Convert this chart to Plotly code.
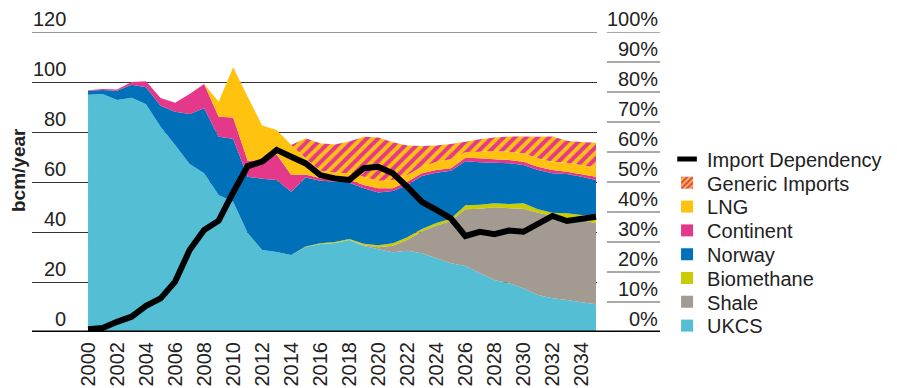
import plotly.graph_objects as go

# Gas supply by source (bcm/year) and import dependency (%), 2000-2035
years = list(range(2000, 2036))

ukcs = [94.9, 95.2, 92.8, 93.7, 91.1, 82.1, 74.8, 67.2, 63.5, 54.8,
        52.1, 39.6, 32.8, 32.0, 30.8, 34.0, 35.2, 35.6, 36.8, 34.4,
        33.1, 31.9, 32.5, 31.5, 29.5, 27.5, 26.4, 23.5, 20.8, 19.5,
        17.5, 14.8, 13.5, 12.8, 11.9, 11.1]
shale = [0, 0, 0, 0, 0, 0, 0, 0, 0, 0,
         0, 0, 0, 0, 0, 0, 0, 0, 0, 0.3,
         0.8, 2.6, 4.3, 8.8, 13.0, 16.9, 22.7, 25.8, 29.1, 30.0,
         31.8, 32.9, 33.0, 32.9, 32.9, 32.4]
biomethane = [0, 0, 0, 0, 0, 0, 0, 0, 0, 0,
              0, 0, 0, 0, 0, 0.2, 0.3, 0.4, 0.4, 0.6,
              0.8, 1.0, 1.1, 0.9, 1.1, 0.9, 1.6, 1.6, 1.6, 1.7,
              2.2, 1.4, 1.2, 1.8, 2.0, 3.0]
norway = [1.6, 1.6, 3.7, 5.2, 6.8, 8.4, 13.3, 20.0, 26.0, 23.3,
          25.2, 22.5, 28.5, 28.8, 25.3, 27.6, 25.0, 24.2, 22.5, 22.2,
          21.1, 20.9, 20.9, 21.2, 20.1, 19.2, 17.6, 17.0, 16.2, 16.3,
          15.3, 15.7, 15.8, 15.7, 15.3, 14.3]
continent = [0.2, 0.4, 0.5, 1.1, 2.4, 3.1, 3.6, 8.0, 9.7, 8.0,
             8.5, 6.4, 7.5, 10.2, 6.7, 1.2, 1.0, 1.1, 1.2, 1.3,
             1.7, 1.1, 1.3, 1.1, 1.1, 1.0, 1.4, 1.6, 1.4, 1.3,
             1.3, 1.3, 1.3, 0.9, 1.0, 1.3]
lng = [0, 0, 0, 0, 0, 0, 0, 0, 0, 6.0,
       20.1, 25.6, 13.8, 9.8, 12.0, 6.5, 3.0, 2.5, 2.6, 3.3,
       3.0, 3.3, 2.7, 2.6, 3.3, 3.6, 2.2, 2.6, 3.3, 3.3,
       3.4, 3.4, 3.3, 3.6, 3.7, 3.6]
generic_imports = [0, 0, 0, 0, 0, 0, 0, 0, 0, 0,
                   0, 0, 0, 0, 0, 8.0, 11.0, 11.2, 12.7, 16.0,
                   17.3, 15.1, 11.8, 8.3, 6.5, 6.1, 4.2, 5.0, 5.4, 6.1,
                   6.7, 8.6, 10.1, 8.8, 9.2, 10.0]
import_dependency = [0.9, 1.3, 3.4, 5.1, 8.7, 11.2, 16.8, 27.3, 34.0, 37.1,
                     46.5, 55.3, 56.8, 60.7, 58.4, 56.2, 52.3, 51.2, 50.7, 54.6,
                     55.1, 52.9, 48.4, 43.4, 40.7, 37.9, 32.0, 33.4, 32.6, 33.8,
                     33.4, 36.2, 38.7, 37.0, 37.8, 38.4]

left_ticks = [0, 20, 40, 60, 80, 100, 120]
right_ticks = [0, 10, 20, 30, 40, 50, 60, 70, 80, 90, 100]
year_ticks = list(range(2000, 2035, 2))

C_UKCS = "#54BFD4"
C_SHALE = "#A39A92"
C_BIO = "#C9CC00"
C_NORWAY = "#0071B9"
C_CONT = "#E4388B"
C_LNG = "#FFC20E"
C_TEXT = "#222222"
FONT = "Liberation Sans, Arial, sans-serif"
HATCH = dict(shape="/", bgcolor=C_LNG, fgcolor=C_CONT, size=8, solidity=0.5, fillmode="replace")

stack = [
    ("UKCS", ukcs, C_UKCS),
    ("Shale", shale, C_SHALE),
    ("Biomethane", biomethane, C_BIO),
    ("Norway", norway, C_NORWAY),
    ("Continent", continent, C_CONT),
    ("LNG", lng, C_LNG),
    ("Generic Imports", generic_imports, None),
]

fig = go.Figure()
for name, vals, col in stack:
    kw = dict(fillcolor=col) if col else dict(fillpattern=HATCH, fillcolor=C_LNG)
    fig.add_trace(go.Scatter(x=years, y=vals, name=name, stackgroup="supply",
                             mode="none", showlegend=False, hoverinfo="skip", **kw))

fig.add_trace(go.Scatter(x=years, y=import_dependency, name="Import Dependency",
                         yaxis="y2", mode="lines", showlegend=False,
                         line=dict(color="black", width=6, shape="linear")))

# Legend: one single-entry legend per item so that entries sit at fixed spacing
legend_items = [
    ("Import Dependency", None),
    ("Generic Imports", "hatch"),
    ("LNG", C_LNG),
    ("Continent", C_CONT),
    ("Norway", C_NORWAY),
    ("Biomethane", C_BIO),
    ("Shale", C_SHALE),
    ("UKCS", C_UKCS),
]
legend_layout = {}
for i, (name, col) in enumerate(legend_items):
    key = "legend" if i == 0 else f"legend{i + 1}"
    if col is None:
        fig.add_trace(go.Scatter(x=[None], y=[None], name=name, mode="markers", legend=key,
                                 marker=dict(symbol="line-ew", size=14, color="black",
                                             line=dict(width=5, color="black"))))
    elif col == "hatch":
        fig.add_trace(go.Bar(x=[None], y=[None], name=name, legend=key,
                             marker=dict(color=C_LNG, line=dict(width=0),
                                         pattern=dict(shape="/", bgcolor=C_LNG, fgcolor=C_CONT,
                                                      size=5, solidity=0.5, fillmode="replace"))))
    else:
        fig.add_trace(go.Bar(x=[None], y=[None], name=name, legend=key,
                             marker=dict(color=col, line=dict(width=0))))
    py = 159 + i * 23.8
    legend_layout[key] = dict(x=1.1240, xanchor="left", y=(332 - py) / 300, yanchor="middle",
                              bgcolor="rgba(0,0,0,0)", borderwidth=0,
                              font=dict(family=FONT, size=20, color=C_TEXT))

shapes = []
# top rule of the bcm scale (range edge is not gridded by default)
shapes.append(dict(type="line", xref="paper", yref="y", x0=0, x1=1, y0=120, y1=120,
                   line=dict(color="#333333", width=1), layer="below"))
# short rule under each right-hand percentage label
for t in right_ticks[1:]:
    shapes.append(dict(type="line", xref="paper", yref="y2", x0=1.0177, x1=1.1115, y0=t, y1=t,
                       line=dict(color="#555555", width=1)))
# heavy baseline across both scales
shapes.append(dict(type="line", xref="paper", yref="y", x0=0, x1=1.1115, y0=0, y1=0,
                   line=dict(color="black", width=3), layer="above"))

annotations = []
for t in left_ticks:
    annotations.append(dict(x=(68 - 32) / 565, y=t, xref="paper", yref="y", text=str(t),
                            showarrow=False, xanchor="right", yanchor="bottom",
                            font=dict(family=FONT, size=20, color=C_TEXT)))
for t in right_ticks:
    annotations.append(dict(x=1.1115, y=t, xref="paper", yref="y2", text=f"{t}%",
                            showarrow=False, xanchor="right", yanchor="bottom",
                            font=dict(family=FONT, size=20, color=C_TEXT)))
annotations.append(dict(x=(18 - 32) / 565, y=(332 - 170) / 300, xref="paper", yref="paper",
                        text="<b>bcm/year</b>", textangle=-90, showarrow=False,
                        xanchor="center", yanchor="middle",
                        font=dict(family=FONT, size=19, color=C_TEXT)))

fig.update_layout(
    width=897, height=388,
    margin=dict(l=32, r=300, t=32, b=56, pad=0, autoexpand=False),
    paper_bgcolor="white", plot_bgcolor="white",
    font=dict(family=FONT, size=20, color=C_TEXT),
    xaxis=dict(range=[1996.14, 2035.07], tickmode="array", tickvals=year_ticks,
               ticktext=[str(y) for y in year_ticks], tickangle=-90, showgrid=False,
               zeroline=False, showline=False, ticks="", ticklabelstandoff=5,
               automargin=False, tickfont=dict(family=FONT, size=20, color=C_TEXT)),
    yaxis=dict(range=[0, 120], tickmode="array", tickvals=left_ticks, showticklabels=False,
               showgrid=True, gridcolor="#333333", gridwidth=1, zeroline=False, showline=False,
               automargin=False),
    yaxis2=dict(range=[0, 100], overlaying="y", side="right", showgrid=False,
                showticklabels=False, zeroline=False, showline=False, automargin=False),
    shapes=shapes, annotations=annotations,
    barmode="overlay",
    **legend_layout,
)

fig.write_html("out.html")
